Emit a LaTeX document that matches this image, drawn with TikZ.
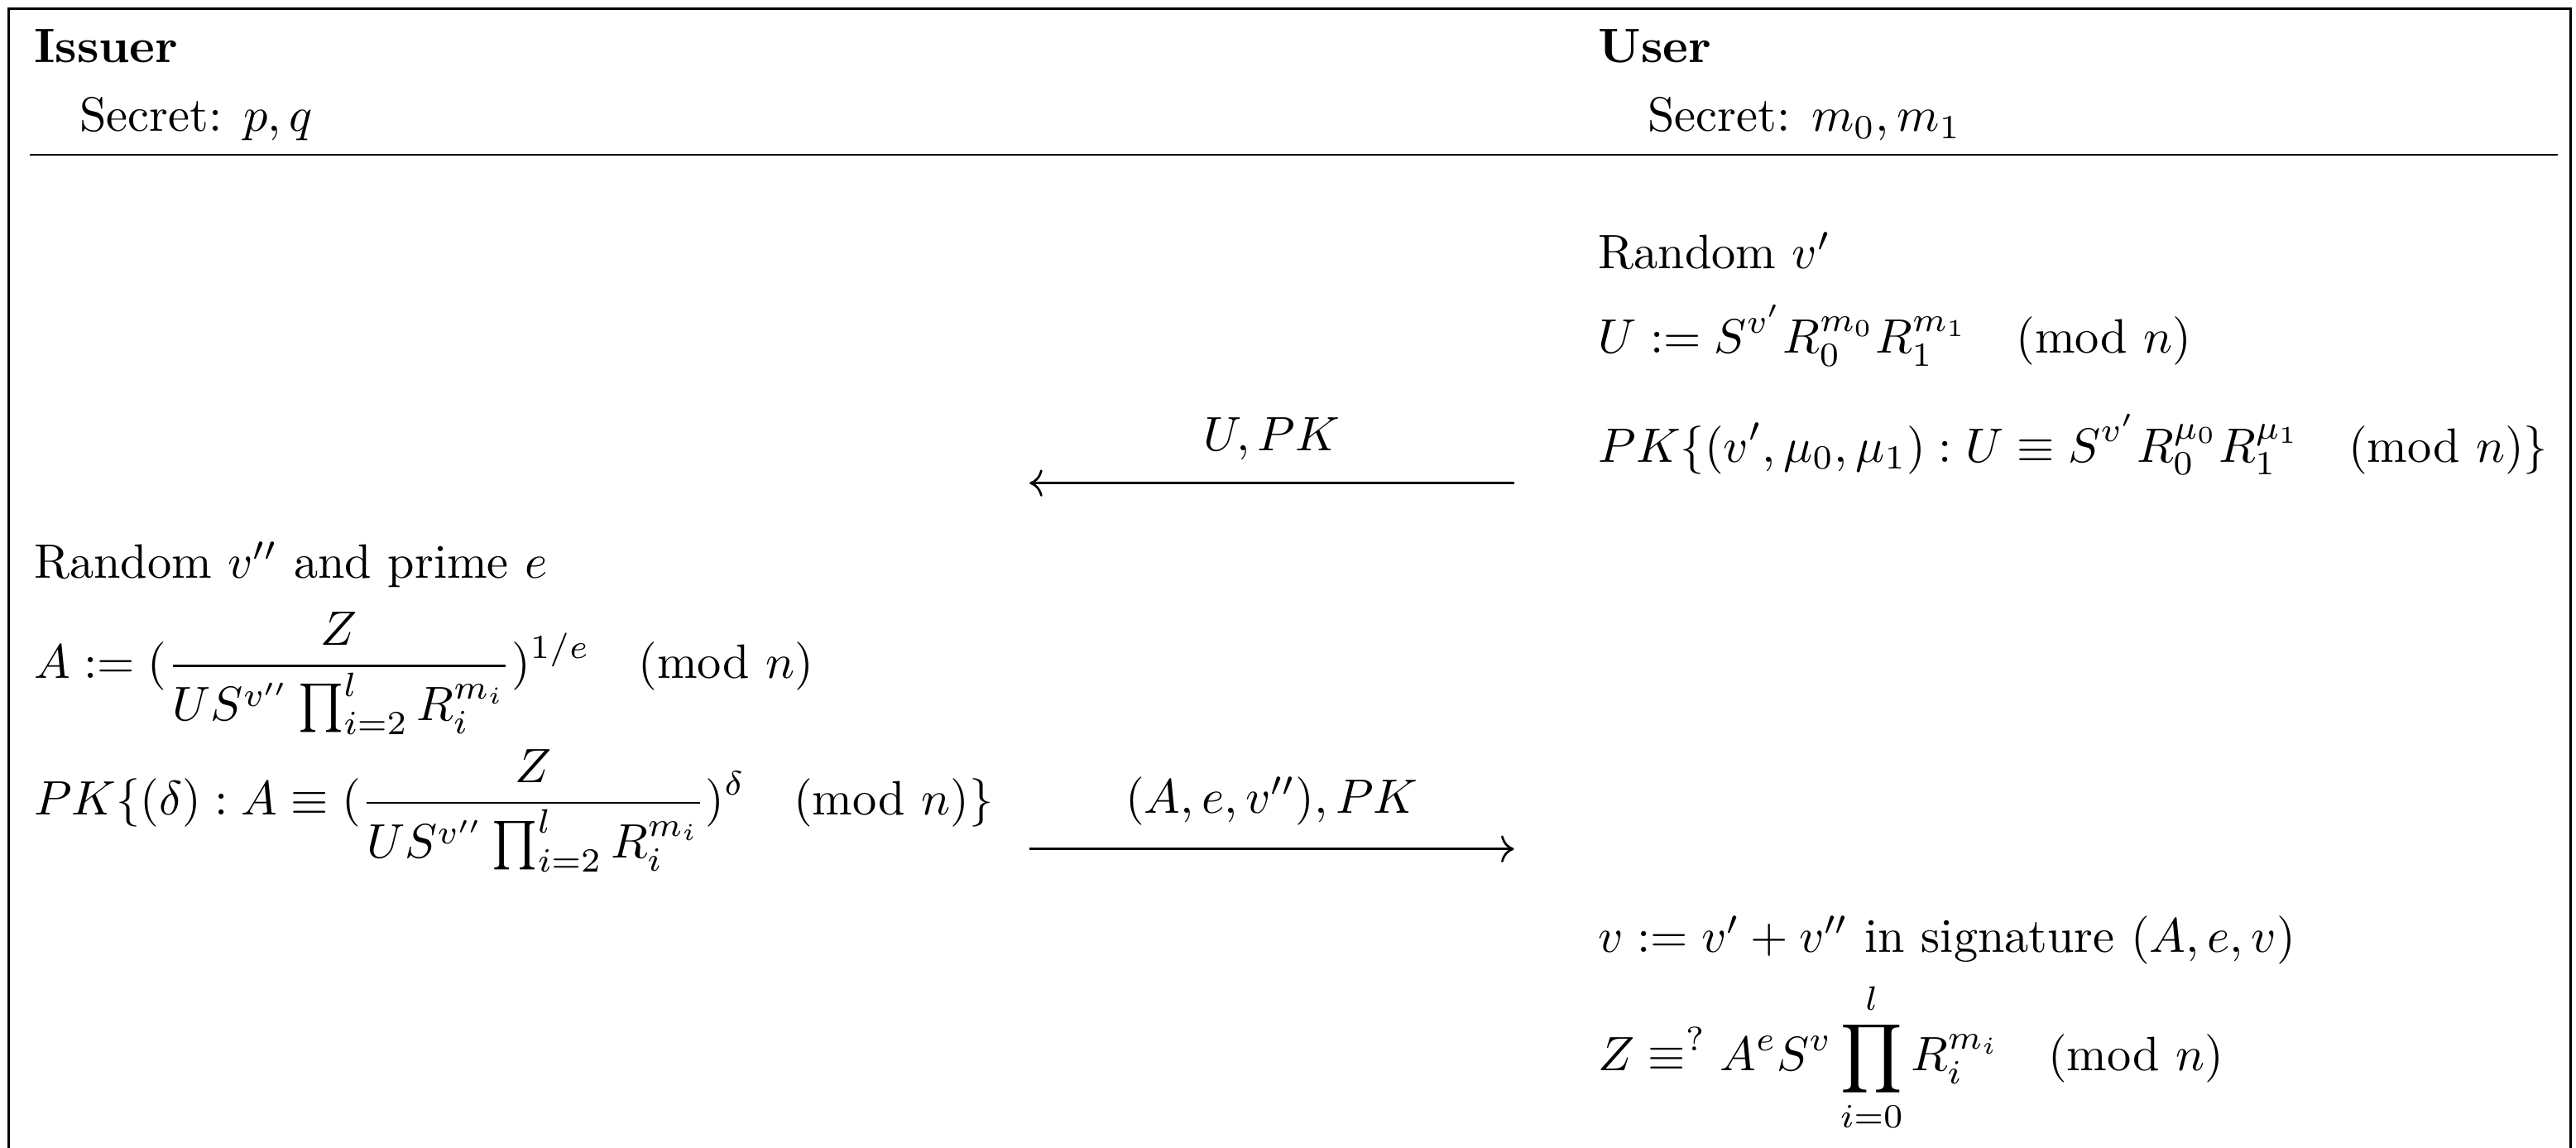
\documentclass[tikz,border=0pt]{standalone}
\usepackage{amsmath,amssymb}
\usepackage{tikz}
\usetikzlibrary{arrows.meta,positioning,calc}
\newcommand{\modn}{\mkern18mu(\mathrm{mod}\mkern6mu n)}

\begin{document}
\begin{tikzpicture}[
  >=To, line width=0.45pt,
  party/.style={anchor=base west, inner sep=0pt, scale=0.973, font=\bfseries},
  proto/.style={anchor=base west, inner sep=0pt, scale=0.973},
  msg/.style={inner sep=0pt, scale=0.973, above=4.5pt},
]
\useasboundingbox (0,0) rectangle (18.24,-8.125);
% frame and header rule
\draw (0.06,-8.125) -- (0.06,-0.06) -- (18.2,-0.06) -- (18.2,-8.125);
\draw (0.21,-1.095) -- (18.11,-1.095);

% header
\node[party] (issuer) at (0.234,-0.44) {Issuer};
\node[proto] (secI) at (0.557,-0.93) {Secret: $p, q$};
\node[party] (user) at (11.31,-0.44) {User};
\node[proto] (secU) at (11.66,-0.93) {Secret: $m_0, m_1$};

% user commits
\node[proto] (rndU) at (11.31,-1.90) {Random $v'$};
\node[proto] (commitU) at (11.31,-2.50) {$\displaystyle U := S^{v'} R_0^{m_0} R_1^{m_1} \modn$};
\node[proto] (proofU) at (11.31,-3.27) {$\displaystyle PK\{(v', \mu_0, \mu_1) : U \equiv S^{v'} R_0^{\mu_0} R_1^{\mu_1} \modn\}$};

% issuer signs
\node[proto] (rndI) at (0.234,-4.095) {Random $v''$ and prime $e$};
\node[proto] (sigA) at (0.234,-4.80) {$\displaystyle A := (\frac{Z}{U S^{v''} \prod_{i=2}^{l} R_i^{m_i}})^{1/e} \modn$};
\node[proto] (proofI) at (0.234,-5.77) {$\displaystyle PK\{(\delta) : A \equiv (\frac{Z}{U S^{v''} \prod_{i=2}^{l} R_i^{m_i}})^{\delta} \modn\}$};

% user completes
\node[proto] (combine) at (11.31,-6.74) {$v := v' + v''$ in signature $(A, e, v)$};
\node[proto] (verify) at (11.31,-7.58) {$\displaystyle Z \equiv^{?} A^e S^v \prod_{i=0}^{l} R_i^{m_i} \modn$};

% messages
\coordinate (m1r) at (10.72,-3.42);
\coordinate (m1l) at (7.29,-3.42);
\coordinate (m2l) at (7.29,-6.01);
\coordinate (m2r) at (10.72,-6.01);
\draw[->] (m1r) -- node[msg] (lblU) {$U, PK$} (m1l);
\draw[->] (m2l) -- node[msg] (lblA) {$(A, e, v''), PK$} (m2r);
\end{tikzpicture}
\end{document}
